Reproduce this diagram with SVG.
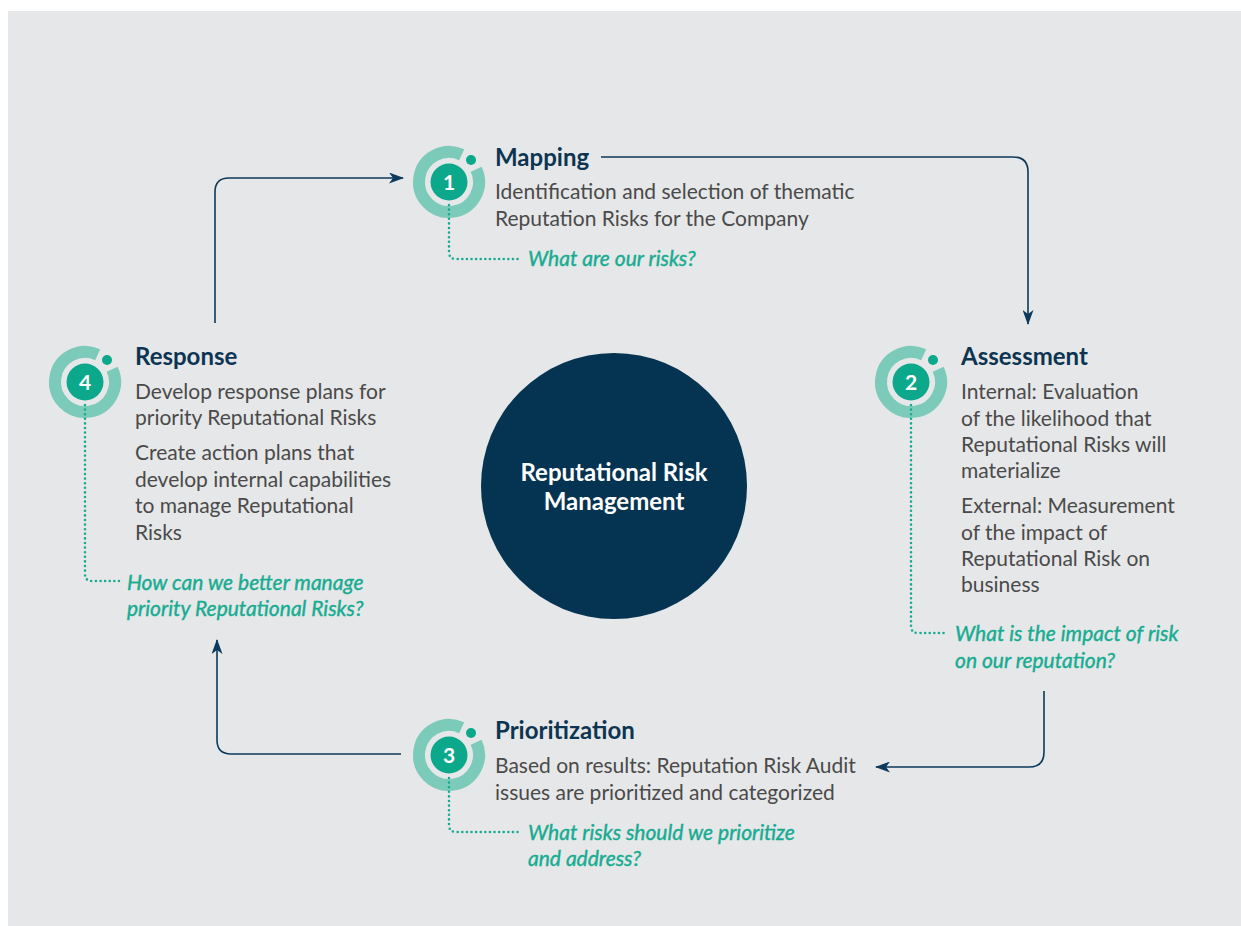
<svg xmlns="http://www.w3.org/2000/svg" xmlns:xlink="http://www.w3.org/1999/xlink" width="1241" height="926" viewBox="0 0 1241 926">
<style>
.t{font-family:Lato,"Open Sans","Liberation Sans",sans-serif;font-weight:bold;font-size:24px;fill:#0d3552}
.b{font-family:Lato,"Open Sans","Liberation Sans",sans-serif;font-size:21px;fill:#4a4a4a}
.q{font-family:Lato,"Open Sans","Liberation Sans",sans-serif;font-style:italic;font-size:21px;fill:#17ac92;stroke:#17ac92;stroke-width:0.4}
.n{font-family:Lato,"Open Sans","Liberation Sans",sans-serif;font-weight:bold;font-size:21px;fill:#fff;text-anchor:middle}
.c{font-family:Lato,"Open Sans","Liberation Sans",sans-serif;font-weight:bold;font-size:24px;fill:#fff;text-anchor:middle}
.conn{fill:none;stroke:#0d3a5c;stroke-width:1.6;marker-end:url(#arr)}
.dot{fill:none;stroke:#17ac92;stroke-width:2.6;stroke-linecap:round;stroke-dasharray:0 4.6}
</style>
<defs>
<marker id="arr" viewBox="0 0 15 11" refX="14" refY="5.5" markerWidth="15" markerHeight="11" markerUnits="userSpaceOnUse" orient="auto">
<path d="M0,0 L15,5.5 L0,11 L4,5.5 Z" fill="#0d3a5c"/>
</marker>
<g id="icon">
<path d="M27.19,-12.68 A30,30 0 1 1 12.68,-27.19" fill="none" stroke="#7ccab9" stroke-width="12"/>
<circle r="18.5" fill="#0ba88c"/>
<circle cx="22" cy="-22" r="5" fill="#0ba88c"/>
</g>
</defs>
<rect x="8" y="11" width="1233" height="915" fill="#e6e7e8"/>

<g id="connectors">
<path class="conn" d="M215,323 V192 Q215,178 229,178 H403"/>
<path class="conn" d="M601,157 H1013 Q1028,157 1028,172 V324"/>
<path class="conn" d="M1044,691 V752 Q1044,767 1029,767 H876"/>
<path class="conn" d="M401,754 H231 Q217,754 217,740 V640"/>
</g>

<g id="center">
<circle cx="614" cy="486" r="133" fill="#053452"/>
<text class="c" x="614" y="481">Reputational Risk</text>
<text class="c" x="614" y="510">Management</text>
</g>

<g id="mapping">
<use xlink:href="#icon" x="449" y="182"/>
<text class="n" x="449" y="189.5">1</text>
<path class="dot" d="M449,205 V252 Q449,259 456,259 H520"/>
<text class="t" x="495" y="166">Mapping</text>
<text class="b" x="495" y="199">Identification and selection of thematic</text>
<text class="b" x="495" y="226">Reputation Risks for the Company</text>
<text class="q" x="528" y="266">What are our risks?</text>
</g>

<g id="assessment">
<use xlink:href="#icon" x="911" y="382"/>
<text class="n" x="911" y="389.5">2</text>
<path class="dot" d="M911,405 V626 Q911,633 918,633 H948"/>
<text class="t" x="961" y="365">Assessment</text>
<text class="b" x="961" y="399">Internal: Evaluation</text>
<text class="b" x="961" y="426">of the likelihood that</text>
<text class="b" x="961" y="452">Reputational Risks will</text>
<text class="b" x="961" y="478">materialize</text>
<text class="b" x="961" y="513">External: Measurement</text>
<text class="b" x="961" y="540">of the impact of</text>
<text class="b" x="961" y="566">Reputational Risk on</text>
<text class="b" x="961" y="592">business</text>
<text class="q" x="955" y="641">What is the impact of risk</text>
<text class="q" x="955" y="668">on our reputation?</text>
</g>

<g id="prioritization">
<use xlink:href="#icon" x="449" y="755"/>
<text class="n" x="449" y="762.5">3</text>
<path class="dot" d="M449,778 V825 Q449,832 456,832 H520"/>
<text class="t" x="495" y="739">Prioritization</text>
<text class="b" x="495" y="773">Based on results: Reputation Risk Audit</text>
<text class="b" x="495" y="800">issues are prioritized and categorized</text>
<text class="q" x="528" y="840">What risks should we prioritize</text>
<text class="q" x="528" y="866">and address?</text>
</g>

<g id="response">
<use xlink:href="#icon" x="85" y="382"/>
<text class="n" x="85" y="389.5">4</text>
<path class="dot" d="M85,405 V574 Q85,581 92,581 H120"/>
<text class="t" x="135" y="365">Response</text>
<text class="b" x="135" y="399">Develop response plans for</text>
<text class="b" x="135" y="425">priority Reputational Risks</text>
<text class="b" x="135" y="460">Create action plans that</text>
<text class="b" x="135" y="487">develop internal capabilities</text>
<text class="b" x="135" y="513">to manage Reputational</text>
<text class="b" x="135" y="540">Risks</text>
<text class="q" x="127" y="590">How can we better manage</text>
<text class="q" x="127" y="616">priority Reputational Risks?</text>
</g>
</svg>
